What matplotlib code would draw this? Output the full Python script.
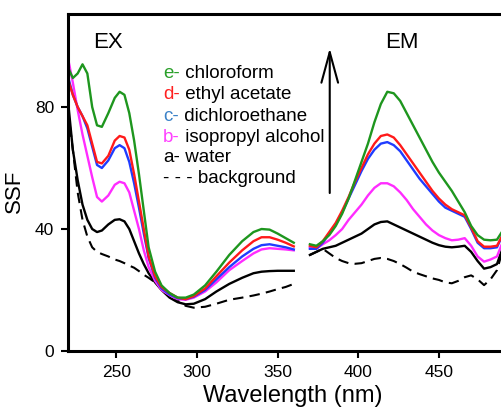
import numpy as np
import matplotlib
matplotlib.use('Agg')
import matplotlib.pyplot as plt

plt.rcParams['font.family'] = ['Liberation Sans', 'DejaVu Sans']

# excitation spectra (EX)
ex_wl = [220, 223, 226, 229, 232, 235, 238, 241, 245, 249, 252, 255, 258, 261, 264, 267,
         270, 274, 278, 283, 288, 293, 298, 305, 312, 320, 328, 335, 340, 345, 350, 355, 360]
ex_chloroform = [93, 89.5, 91, 94, 91, 80, 74, 73.5, 78, 83, 85, 84, 78, 69, 58, 46,
                 34, 26, 21.5, 19, 17.5, 17.5, 18.5, 21.5, 26, 31.5, 36, 39, 40, 39.8, 38.5, 37, 35.5]
ex_ethyl = [89, 84, 80, 77, 74, 68, 62, 61.5, 64, 69, 70.5, 70, 66, 58, 49, 40,
            31, 24.5, 21, 19, 17.5, 17, 18, 20.5, 24.5, 29, 33, 36, 37.3, 37.3, 36.5, 35.5, 34.3]
ex_dichloro = [90, 84, 80, 77, 73, 67, 61, 60, 62.5, 66.5, 67.5, 66.5, 62, 55, 47, 38.5,
               30.5, 24, 20.5, 18.5, 17.3, 17, 17.8, 20, 23.5, 27.5, 31, 33.5, 34.7, 35, 34.5, 34, 33.3]
ex_isopropyl = [96, 88, 79, 71, 64, 57, 50.5, 49, 51, 54.5, 55.5, 55, 52, 46, 40, 33,
                27.5, 23, 20, 18.3, 17, 16.8, 17.5, 19.5, 22.5, 26.5, 29.5, 32, 33.3, 33.7, 33.5, 33.3, 33]
ex_water = [82, 66, 56, 48, 43, 40, 39, 39.5, 41.5, 43, 43.2, 42.5, 40, 36, 32, 28.5,
            25.5, 22.5, 20, 17.5, 16, 15.3, 15.5, 17, 19.5, 22, 24, 25.5, 26, 26.2, 26.3, 26.3, 26.3]
ex_background = [79, 66, 52, 43, 37.5, 34, 32.5, 31.8, 31, 30, 29.5, 28.8, 28, 27.3, 26.2, 25,
                 24, 22.5, 20.8, 19, 16.5, 14.8, 14.2, 14.5, 15.5, 16.8, 17.5, 18.2, 18.8, 19.5, 20.3, 21, 22]

# emission spectra (EM)
em_wl = [370, 374, 378, 382, 386, 390, 394, 398, 402, 406, 410, 414, 418, 422, 426, 430,
         434, 438, 442, 446, 450, 454, 458, 462, 466, 470, 474, 478, 482, 486, 489]
em_chloroform = [35, 34.5, 36, 38, 41, 45, 50, 56, 62, 68, 75, 81, 85, 84.5, 82, 78,
                 74, 70, 66, 62, 58.5, 55.5, 52.5, 49, 45.5, 41, 38, 36.5, 36.3, 36.5, 39]
em_ethyl = [34.5, 34, 36, 39, 42, 46, 50.5, 55.5, 60, 64.5, 68, 70.5, 71, 70, 67.5, 64.5,
            61.5, 58.5, 55.5, 52.5, 50, 48, 46.5, 45.5, 44.5, 40.5, 36, 34.2, 34.2, 34.5, 37.5]
em_dichloro = [33.5, 33.5, 35.5, 38.5, 41.5, 45.5, 50, 54.5, 59, 63, 66, 68, 68.5, 67.5, 65.5, 62.5,
               59.5, 56.5, 54, 51.5, 49, 47, 46, 45, 44, 40, 35.5, 33.7, 33.7, 34, 37.5]
em_isopropyl = [34, 33.5, 35, 36.3, 38, 40, 43, 45.5, 48, 51, 53.5, 55, 55, 54, 52, 49.5,
                46.5, 44, 41.5, 39.5, 38, 37, 36.3, 36.5, 37, 34.5, 31, 29.3, 30, 31, 35]
em_water = [31.5, 32.5, 33.5, 34, 34.5, 35.5, 36.5, 37.5, 38.5, 40, 41.5, 42.3, 42.5, 41.5, 40.5, 39.5,
            38.5, 37.5, 36.5, 35.5, 34.7, 34.2, 34, 34.2, 34.5, 32.5, 29.5, 27, 27.5, 28.5, 33]
em_background = [31.5, 32.5, 33.5, 32, 30.5, 29.5, 28.8, 28.6, 28.8, 29.5, 30.2, 30.5, 30.2, 29.5, 28.5, 27.3,
                 26, 25.2, 24.5, 23.8, 23.3, 22.5, 22.2, 23, 24.2, 24.8, 23.5, 21.6, 23.5, 26.5, 32]

prefixes = ['e-', 'd-', 'c-', 'b-', 'a-']
names = ['chloroform', 'ethyl acetate', 'dichloroethane', 'isopropyl alcohol', 'water']
cores = ['#1e961e', '#ff1a1a', '#1f3cff', '#ff2cff', 'black']
legenda_cores = ['#2aa02a', '#ff2020', '#3c82c8', '#ff40ff', 'black']

ex_series = [ex_chloroform, ex_ethyl, ex_dichloro, ex_isopropyl, ex_water]
em_series = [em_chloroform, em_ethyl, em_dichloro, em_isopropyl, em_water]

fig = plt.figure(figsize=(5.01, 4.08), dpi=100)
ax = fig.add_axes([68 / 501, 57 / 408, 433 / 501, 337 / 408])

# desenha do mais baixo pro mais alto
ax.plot(ex_wl, ex_background, color='black', lw=1.5, ls=(0, (5, 3)))
ax.plot(em_wl, em_background, color='black', lw=1.5, ls=(0, (5, 3)))
for i in range(len(ex_series) - 1, -1, -1):
    ax.plot(ex_wl, ex_series[i], color=cores[i], lw=1.7)
    ax.plot(em_wl, em_series[i], color=cores[i], lw=1.7)

ax.set_xlim(220, 488.5)
ax.set_ylim(0, 110.5)
ax.set_xticks([250, 300, 350, 400, 450])
ax.set_yticks([0, 40, 80])

ax.spines['right'].set_visible(False)
for s in ['left', 'bottom', 'top']:
    ax.spines[s].set_linewidth(2.2)
ax.tick_params(direction='out', length=5, width=1.5, labelsize=12.5, pad=5)

ax.set_xlabel('Wavelength (nm)', fontsize=17)
ax.set_ylabel('SSF', fontsize=16)
ax.xaxis.set_label_coords(0.52, -0.10)
ax.yaxis.set_label_coords(-0.10, 0.473)

ax.text(0.0924, 0.914, 'EX', transform=ax.transAxes, fontsize=16, ha='center', va='center')
ax.text(0.7707, 0.914, 'EM', transform=ax.transAxes, fontsize=16, ha='center', va='center')

# legenda manual com prefixo colorido
ys = [73, 94.5, 116, 137, 157.5, 178.5]
for i in range(5):
    yf = 1 - (ys[i] - 14) / 337
    t = ax.text(0.2194, yf, prefixes[i], transform=ax.transAxes, fontsize=13.5,
                color=legenda_cores[i], ha='left', va='center')
    ax.annotate(' ' + names[i], xy=(1, 0.5), xycoords=t, fontsize=13.5,
                ha='left', va='center')
ax.text(0.2194, 1 - (ys[5] - 14) / 337, '- - - background', transform=ax.transAxes,
        fontsize=13.5, ha='left', va='center')

ax.annotate('', xy=(382.3, 99.3), xytext=(382.3, 51.8),
            arrowprops=dict(arrowstyle='->,head_length=1.1,head_width=0.3',
                            mutation_scale=20, lw=1.5, color='black',
                            shrinkA=0, shrinkB=0))

fig.savefig('out.png', dpi=100)
